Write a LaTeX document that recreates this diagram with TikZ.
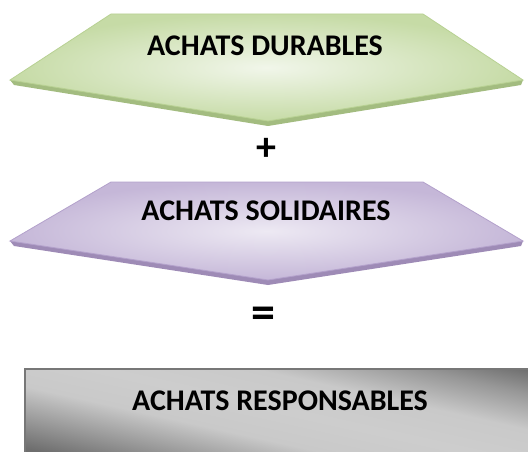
\documentclass[tikz,border=0pt]{standalone}
\usepackage{fontspec}
\setmainfont{Carlito}
\definecolor{gdark}{HTML}{6E6E6E}
\definecolor{gmid}{HTML}{979797}
\definecolor{glight}{HTML}{C9C9C9}
\definecolor{glighter}{HTML}{CDCDCD}
\pgfdeclarehorizontalshading{grayshade}{100bp}{color(0bp)=(gdark); color(42.1bp)=(gdark); color(44.7bp)=(gmid); color(47.9bp)=(glight); color(51bp)=(glighter); color(54.3bp)=(glight); color(57.7bp)=(gmid); color(60bp)=(gdark); color(100bp)=(gdark)}
\definecolor{grnlight}{HTML}{F1F6EA}
\definecolor{grnouter}{HTML}{C6DBA6}
\definecolor{grnedge}{HTML}{B8D193}
\definecolor{grnband}{HTML}{A3BC80}
\definecolor{purlight}{HTML}{EDE9F3}
\definecolor{purouter}{HTML}{C5B7D8}
\definecolor{puredge}{HTML}{B3A1CB}
\definecolor{purband}{HTML}{9E8BB6}
\definecolor{rectedge}{HTML}{777777}
\tikzset{
  lbl/.style={font=\fontsize{30}{35}\selectfont\bfseries, text=black, inner sep=0pt},
  op/.style={font=\fontsize{40}{44}\selectfont\bfseries, text=black, inner sep=0pt},
  eqop/.style={font=\fontsize{48}{52}\selectfont\bfseries, text=black, inner sep=0pt},
}
\begin{document}
\begin{tikzpicture}[x=1pt,y=-1pt]
\useasboundingbox (0,0) rectangle (528,452);
\clip (0,0) rectangle (528,452);
% green chevron
\fill[grnband] (10,80) -- (14,85) -- (268,126) -- (521,85) -- (523,80) -- cycle;
\shade[inner color=grnlight, outer color=grnouter, draw=grnedge, line width=0.8pt]
  (111,14) -- (423,14) -- (523,80) -- (268,121) -- (10,80) -- cycle;
\node[lbl] (durables) at (265,46) {ACHATS DURABLES};
\node[op] (plus) at (266,149) {+};
% purple chevron
\fill[purband] (10,241) -- (14,246) -- (268,285) -- (521,246) -- (523,241) -- cycle;
\shade[inner color=purlight, outer color=purouter, draw=puredge, line width=0.8pt]
  (111,182) -- (423,182) -- (523,241) -- (268,280) -- (10,241) -- cycle;
\node[lbl] (solidaires) at (266,211) {ACHATS SOLIDAIRES};
\node[eqop] (equals) at (263,318) {=};
% gray rectangle
\begin{scope}
  \clip (25,369) rectangle (536,472);
  \shade[shading=grayshade, shading angle=77.5] (20.5,160.5) rectangle (540.5,680.5);
\end{scope}
\draw[rectedge, line width=2pt] (25,369) rectangle (536,472);
\node[lbl] (responsables) at (280,401) {ACHATS RESPONSABLES};
\end{tikzpicture}
\end{document}
